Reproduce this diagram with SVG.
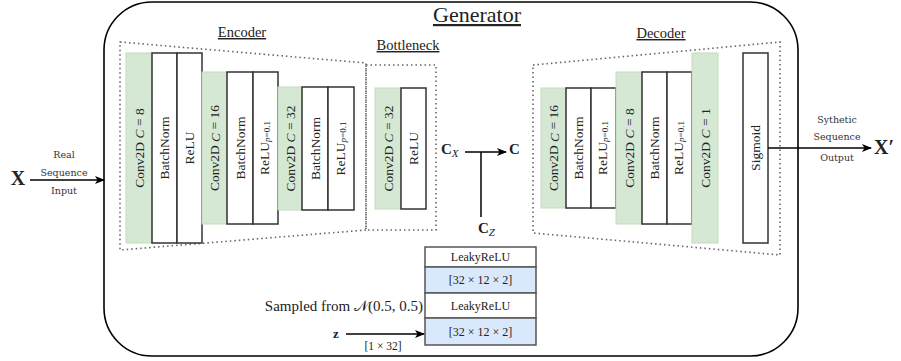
<svg xmlns="http://www.w3.org/2000/svg" width="901" height="361" viewBox="0 0 901 361">
<defs>
<marker id="arr" markerWidth="10" markerHeight="10" refX="9" refY="5" orient="auto" markerUnits="userSpaceOnUse">
<path d="M0,1 L10,5 L0,9 L2.5,5 Z" fill="#000"/>
</marker>
<style>
text{font-family:"Liberation Serif","DejaVu Serif",serif;fill:#222}
.g{fill:#d5e8d4;stroke:#c3dcbb;stroke-width:1}
.w{fill:#fff;stroke:#333;stroke-width:1.5}
.b{fill:#dae8fc;stroke:#555;stroke-width:1.5}
.lw{fill:#fff;stroke:#555;stroke-width:1.5}
.dot{fill:none;stroke:#666;stroke-width:1.6;stroke-dasharray:1.5 3}
.vt{font-size:13.5px;text-anchor:middle;dominant-baseline:central}
.hd{font-size:14.5px;text-anchor:middle;text-decoration:underline}
.sl{font-family:"DejaVu Serif",serif;font-size:9.5px;text-anchor:middle;fill:#333}
.cn{fill:none;stroke:#000;stroke-width:1.5}
.st{font-size:12px;text-anchor:middle;dominant-baseline:central}
</style>
</defs>
<rect id="generator" x="104" y="2" width="694" height="354" rx="48" ry="48" fill="#fff" stroke="#000" stroke-width="1.6"/>
<text x="477" y="22" font-size="22" text-anchor="middle" text-decoration="underline">Generator</text>

<g id="encoder">
<polygon class="dot" points="120,42 366,63 366,230 120,250"/>
<text class="hd" x="242" y="37">Encoder</text>
<rect class="g" x="126" y="53" width="26" height="190"/>
<rect class="w" x="152" y="53" width="25" height="190"/>
<rect class="w" x="177" y="53" width="25" height="190"/>
<text class="vt" transform="translate(139,148) rotate(-90)">Conv2D <tspan font-style="italic">C</tspan> = 8</text>
<text class="vt" transform="translate(164.5,148) rotate(-90)">BatchNorm</text>
<text class="vt" transform="translate(189.5,148) rotate(-90)">ReLU</text>
<rect class="g" x="202" y="72" width="25" height="152"/>
<rect class="w" x="227" y="72" width="26" height="152"/>
<rect class="w" x="253" y="72" width="25" height="152"/>
<text class="vt" transform="translate(214.5,148) rotate(-90)">Conv2D <tspan font-style="italic">C</tspan> = 16</text>
<text class="vt" transform="translate(240,148) rotate(-90)">BatchNorm</text>
<text class="vt" transform="translate(264,148) rotate(-90)">ReLU<tspan dy="3" font-size="9"><tspan font-style="italic">p</tspan>=0.1</tspan></text>
<rect class="g" x="278" y="87" width="24" height="123"/>
<rect class="w" x="302" y="87" width="26" height="123"/>
<rect class="w" x="328" y="87" width="26" height="123"/>
<text class="vt" transform="translate(290,148.5) rotate(-90)">Conv2D <tspan font-style="italic">C</tspan> = 32</text>
<text class="vt" transform="translate(315,148.5) rotate(-90)">BatchNorm</text>
<text class="vt" transform="translate(340,148.5) rotate(-90)">ReLU<tspan dy="3" font-size="9"><tspan font-style="italic">p</tspan>=0.1</tspan></text>
</g>

<g id="bottleneck">
<rect class="dot" x="366" y="65" width="70" height="165"/>
<text class="hd" x="408" y="50">Bottleneck</text>
<rect class="g" x="375" y="88" width="26" height="121"/>
<rect class="w" x="401" y="88" width="25" height="121"/>
<text class="vt" transform="translate(388,148.5) rotate(-90)">Conv2D <tspan font-style="italic">C</tspan> = 32</text>
<text class="vt" transform="translate(413.5,148.5) rotate(-90)">ReLU</text>
</g>

<g id="decoder">
<polygon class="dot" points="533,65 780,42 780,255 533,233"/>
<text class="hd" x="661" y="38">Decoder</text>
<rect class="g" x="541" y="88" width="25" height="120"/>
<rect class="w" x="566" y="88" width="25" height="120"/>
<rect class="w" x="591" y="88" width="25" height="120"/>
<text class="vt" transform="translate(553.5,148) rotate(-90)">Conv2D <tspan font-style="italic">C</tspan> = 16</text>
<text class="vt" transform="translate(578.5,148) rotate(-90)">BatchNorm</text>
<text class="vt" transform="translate(602,148) rotate(-90)">ReLU<tspan dy="3" font-size="9"><tspan font-style="italic">p</tspan>=0.1</tspan></text>
<rect class="g" x="616" y="72" width="26" height="152"/>
<rect class="w" x="642" y="72" width="25" height="152"/>
<rect class="w" x="667" y="72" width="25" height="152"/>
<text class="vt" transform="translate(629,148) rotate(-90)">Conv2D <tspan font-style="italic">C</tspan> = 8</text>
<text class="vt" transform="translate(654.5,148) rotate(-90)">BatchNorm</text>
<text class="vt" transform="translate(678,148) rotate(-90)">ReLU<tspan dy="3" font-size="9"><tspan font-style="italic">p</tspan>=0.1</tspan></text>
<rect class="g" x="692" y="53" width="26" height="190"/>
<text class="vt" transform="translate(705,148) rotate(-90)">Conv2D <tspan font-style="italic">C</tspan> = 1</text>
</g>

<g id="sigmoid">
<rect class="w" x="743" y="53" width="25" height="190"/>
<text class="vt" transform="translate(755.5,148) rotate(-90)">Sigmoid</text>
</g>

<g id="noise-stack">
<rect class="lw" x="425" y="247" width="111" height="20"/>
<rect class="b" x="425" y="267" width="111" height="26"/>
<rect class="lw" x="425" y="293" width="111" height="25"/>
<rect class="b" x="425" y="318" width="111" height="27"/>
<text class="st" x="480.5" y="257">LeakyReLU</text>
<text class="st" x="480.5" y="280">[32 × 12 × 2]</text>
<text class="st" x="480.5" y="305.5">LeakyReLU</text>
<text class="st" x="480.5" y="331.5">[32 × 12 × 2]</text>
</g>

<g id="labels">
<text x="18" y="185" font-size="20" font-weight="bold" text-anchor="middle">X</text>
<text class="sl" x="64" y="158">Real</text>
<text class="sl" x="64" y="176">Sequence</text>
<text class="sl" x="64" y="194">Input</text>
<text x="884" y="154" font-size="20" font-weight="bold" text-anchor="middle">X′</text>
<text class="sl" x="837" y="123">Sythetic</text>
<text class="sl" x="837" y="140">Sequence</text>
<text class="sl" x="837" y="161">Output</text>
<text x="441" y="154" font-size="15" font-weight="bold">C<tspan dy="3" font-size="11" font-style="italic" font-weight="normal">X</tspan></text>
<text x="509" y="154" font-size="15" font-weight="bold">C</text>
<text x="478" y="233" font-size="15" font-weight="bold">C<tspan dy="3" font-size="11" font-style="italic" font-weight="normal">Z</tspan></text>
<text x="423" y="311" font-size="15" text-anchor="end" fill="#333">Sampled from 𝒩(0.5, 0.5)</text>
<text x="336" y="338" font-size="13" font-weight="bold" text-anchor="middle">z</text>
<text x="383" y="350" font-size="11.5" text-anchor="middle">[1 × 32]</text>
</g>

<g id="connectors">
<line class="cn" x1="30" y1="180" x2="104" y2="180" marker-end="url(#arr)"/>
<line class="cn" x1="768" y1="148" x2="871" y2="148" marker-end="url(#arr)"/>
<line class="cn" x1="465" y1="152" x2="506" y2="152" marker-end="url(#arr)"/>
<line class="cn" x1="481" y1="152" x2="481" y2="217"/>
<line class="cn" x1="346" y1="334" x2="424" y2="334" marker-end="url(#arr)"/>
</g>
</svg>
